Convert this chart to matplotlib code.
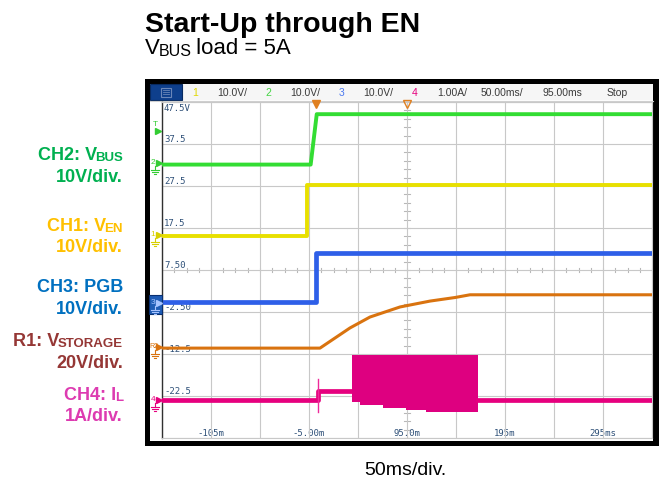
import matplotlib
matplotlib.use('Agg')
import matplotlib.pyplot as plt
from matplotlib.patches import Rectangle
import numpy as np

plt.rcParams['font.family'] = ['Liberation Sans', 'DejaVu Sans']

# scope traces, time in ms, level in screen divisions (0 = centre line)
en_t = [-155, -7.0, -7.0, 345]
en_div = [0.82, 0.82, 2.02, 2.02]

vbus_t = [-155, -3.3, 2.9, 345]
vbus_div = [2.51, 2.51, 3.71, 3.71]

pgb_t = [-155, 1.8, 1.8, 345]
pgb_div = [-0.77, -0.77, 0.40, 0.40]

vstor_t = [-155, 6.2, 21.5, 36.8, 57.2, 87.9, 118.5, 144.0, 159.3, 345]
vstor_div = [-1.86, -1.86, -1.62, -1.38, -1.12, -0.88, -0.74, -0.655, -0.59, -0.59]

il_t = [-155, 3.9, 3.9, 38.6]
il_div = [-3.09, -3.09, -2.87, -2.87]
il_spike_t = 3.9
il_spike_div = [-2.60, -3.38]
il_band_t = [38.6, 46.6, 70.4, 94.3, 114.7, 167.4]
il_band_top = -2.03
il_band_low = [-3.15, -3.21, -3.28, -3.33, -3.37, -3.37]
il_tail_t = [167.4, 345]
il_tail_div = [-3.09, -3.09]

# screen annotations
volt_labels = ['47.5V', '37.5', '27.5', '17.5', '7.50', '-2.50', '-12.5', '-22.5']
volt_divs = [4, 3, 2, 1, 0, -1, -2, -3]
time_labels = ['-105m', '-5.00m', '95.0m', '195m', '295ms']
time_pos = [-105, -5, 95, 195, 295]
header_items = [('1', 195, '#E0D800'), ('10.0V/', 232, '#3A3A3A'),
                ('2', 268, '#44D444'), ('10.0V/', 305, '#3A3A3A'),
                ('3', 342, '#4A78F0'), ('10.0V/', 378, '#3A3A3A'),
                ('4', 415, '#E6007E'), ('1.00A/', 452, '#3A3A3A'),
                ('50.00ms/', 502, '#3A3A3A'), ('95.00ms', 562, '#3A3A3A'),
                ('Stop', 617, '#3A3A3A')]

fig = plt.figure(figsize=(6.6, 4.81), dpi=100)

# pixel-space overlay for frame, titles and side labels
ov = fig.add_axes([0, 0, 1, 1], zorder=0)
ov.set_xlim(0, 660)
ov.set_ylim(481, 0)
ov.axis('off')

ov.add_patch(Rectangle((145, 80), 514, 367, facecolor='black', edgecolor='none'))
ov.add_patch(Rectangle((150, 85), 503, 357, facecolor='white', edgecolor='none'))
ov.add_patch(Rectangle((182, 85), 471, 16, facecolor='#F6F6F6', edgecolor='none'))
ov.plot([150, 653], [101.5, 101.5], color='#D0D0D0', lw=0.8)
ov.add_patch(Rectangle((150, 85), 32, 16, facecolor='#0E3F8C', edgecolor='#082A60', lw=0.8))
ov.add_patch(Rectangle((161, 88.5), 10, 9, facecolor='none', edgecolor='#6A86B8', lw=0.8))
for yy in (91, 93, 95):
    ov.plot([163, 169], [yy, yy], color='#6A86B8', lw=0.6)
for txt, x, c in header_items:
    ov.text(x, 93.5, txt, ha='center', va='center', fontsize=7.5, color=c)

renderer = fig.canvas.get_renderer()


def rich(x, y, parts, color, weight='normal', ha='left'):
    # draw text made of pieces with different sizes (for subscripts)
    objs = []
    widths = []
    for s, size, dy in parts:
        t = ov.text(0, 0, s, fontsize=size, color=color, fontweight=weight,
                    ha='left', va='baseline')
        objs.append(t)
        widths.append(t.get_window_extent(renderer).width)
    steps = [w - 1.5 for w in widths[:-1]]
    total = sum(steps) + widths[-1]
    x0 = x - total if ha == 'right' else x
    for t, w, (s, size, dy) in zip(objs, steps + [0], parts):
        t.set_position((x0, y + dy))
        x0 += w


ov.text(145, 31.5, 'Start-Up through EN', fontsize=20.5, fontweight='bold',
        ha='left', va='baseline')
rich(145, 54.5, [('V', 16, 0), ('BUS', 11.5, 1), (' load = 5A', 16, 0)], 'black')
ov.text(405, 475, '50ms/div.', fontsize=14, ha='center', va='baseline')

side = [
    ([('CH2: V', 13, 0), ('BUS', 9.5, 1)], '10V/div.', '#00B050', 160, 182.5),
    ([('CH1: V', 13, 0), ('EN', 9.5, 1)], '10V/div.', '#FFC000', 231.5, 252.5),
    ([('CH3: PGB', 13, 0)], '10V/div.', '#0070C0', 292.5, 314.5),
    ([('R1: V', 13, 0), ('STORAGE', 9.5, 1)], '20V/div.', '#953735', 346.5, 368),
    ([('CH4: I', 13, 0), ('L', 9.5, 1)], '1A/div.', '#DD3BB1', 400, 421.5),
]
for parts, scale, c, y1, y2 in side:
    rich(123, y1, parts, c, weight='bold', ha='right')
    ov.text(123, y2, scale, fontsize=13, fontweight='bold', color=c,
            ha='right', va='baseline')

# scope graticule
ax = fig.add_axes([162 / 660, (481 - 439) / 481, 490 / 660, 336 / 481], zorder=1)
ax.set_xlim(-155, 345)
ax.set_ylim(-4, 4)
ax.set_xticks(np.arange(-155, 346, 50))
ax.set_yticks(np.arange(-4, 5, 1))
ax.grid(True, color='#C8C8C8', lw=0.8)
ax.tick_params(length=0, labelbottom=False, labelleft=False)
for s in ('top', 'right', 'bottom'):
    ax.spines[s].set_color('#C8C8C8')
    ax.spines[s].set_linewidth(0.8)
ax.spines['left'].set_color('#303030')
ax.spines['left'].set_linewidth(1.0)

# minor ticks on the centre lines
for xx in np.arange(-155, 346, 12.5):
    ax.plot([xx, xx], [-0.05, 0.05], color='#B8B8B8', lw=0.8, zorder=1)
for yy in np.arange(-4, 4.01, 0.2):
    ax.plot([92, 98], [yy, yy], color='#B8B8B8', lw=0.8, zorder=1)

mono = dict(family='DejaVu Sans Mono', fontsize=6.5, color='#2E5078', zorder=1)
for lab, d in zip(volt_labels, volt_divs):
    yy = 3.87 if d == 4 else d + 0.12
    ax.text(-153, yy, lab, ha='left', va='center', **mono)
for lab, xx in zip(time_labels, time_pos):
    ax.text(xx, -3.88, lab, ha='center', va='center', **mono)

ax.plot(en_t, en_div, color='#E8E000', lw=2.8, zorder=3)
ax.plot(vbus_t, vbus_div, color='#33DD33', lw=2.8, zorder=3)
ax.plot(pgb_t, pgb_div, color='#2E5FE8', lw=3.4, zorder=3)
ax.plot(vstor_t, vstor_div, color='#D9730F', lw=2.2, zorder=3)
ax.plot(il_t, il_div, color='#E6007E', lw=3.4, zorder=4)
ax.plot([il_spike_t, il_spike_t], il_spike_div, color='#EE2A9A', lw=1.0, zorder=4)
ax.fill_between(il_band_t, il_band_low, il_band_top, step='post',
                color='#DE0080', lw=0, zorder=4)
ax.plot(il_tail_t, il_tail_div, color='#E6007E', lw=3.4, zorder=4)

# trigger position / delay markers along the top edge
ov2 = fig.add_axes([0, 0, 1, 1], zorder=2)
ov2.set_xlim(0, 660)
ov2.set_ylim(481, 0)
ov2.axis('off')
ov2.plot(315.5, 105, marker='v', ms=6, color='#E08020', mec='#E08020')
ov2.plot(407, 105, marker='v', ms=6, mfc='none', mec='#E08020', mew=1.0)


def ground(x, y, c):
    ov2.plot([x, x], [y, y + 4], color=c, lw=0.8)
    for k, hw in enumerate((4, 2.7, 1.4)):
        ov2.plot([x - hw, x + hw], [y + 4 + 2 * k, y + 4 + 2 * k], color=c, lw=0.8)


# channel reference markers in the left margin
ov2.text(155.5, 124, 'T', fontsize=6, color='#33CC33', ha='center', va='center')
ov2.plot(157.5, 132, marker='>', ms=4, color='#33CC33')
ov2.add_patch(Rectangle((149, 296), 13, 19, facecolor='#1F5CB5', edgecolor='#0A2F70', lw=0.8))
markers = [('2', 163.5, '#33CC33'), ('1', 235.5, '#D8D000'), ('3', 304, '#A8C4FF'),
           ('R2', 347.5, '#D9730F'), ('4', 401, '#E6007E')]
for lab, yy, c in markers:
    ov2.text(153 if len(lab) == 1 else 154, yy - 1, lab, fontsize=6 if len(lab) == 1 else 5,
             color=c, ha='center', va='center')
    ov2.plot(159, yy, marker='>', ms=4, color=c)
    ground(155, yy + 3, c)

fig.savefig('out.png', dpi=100)
